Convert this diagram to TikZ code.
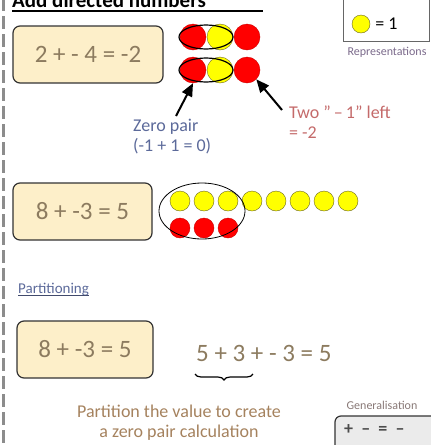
\documentclass[tikz,border=0pt]{standalone}
\usepackage{fontspec}
\setmainfont{Carlito}
\usetikzlibrary{positioning,arrows,arrows.meta,decorations.pathreplacing}
\definecolor{boxfill}{HTML}{FDEFC9}
\definecolor{sumtext}{HTML}{8C7B5F}
\definecolor{bluetext}{HTML}{5C6A9A}
\definecolor{redtext}{HTML}{C46A6A}
\definecolor{warmtext}{HTML}{A5825E}
\definecolor{cntred}{HTML}{FF0000}
\definecolor{cntyellow}{HTML}{FFFF00}
\tikzset{
  sumbox/.style={draw=black!80, very thick, rounded corners=7pt, fill=boxfill,
    text=sumtext, font=\fontsize{25}{27}\selectfont},
  redcnt/.style={circle, fill=cntred, draw=cntred!80!black, thin, inner sep=0pt},
  yelcnt/.style={circle, fill=cntyellow, draw=olive!70!black, thin, inner sep=0pt},
  note/.style={font=\fontsize{18}{20}\selectfont, align=left, inner sep=1pt},
  tiny/.style={font=\fontsize{12}{13}\selectfont, inner sep=0pt},
  pointer/.style={-{Triangle[length=13pt,width=11pt]}, line width=2pt, black}
}
\begin{document}
\begin{tikzpicture}[x=1pt,y=-1pt]
			\useasboundingbox (0,0) rectangle (431,445);
			\clip (0,0) rectangle (431,445);
			\draw[line width=3pt, black!45, dash pattern=on 13pt off 5pt] (3,-2) -- (3,447);
 
			% heading
			\node[anchor=base west, font=\bfseries\fontsize{21}{23}\selectfont, inner sep=0pt] (head) at (12,7) {Add directed numbers};
			\draw[line width=1.6pt] (12,11) -- (263,11);
 
			% legend
			\draw[black!60, thick, fill=white] (343,-5) rectangle (429,41);
			\node[yelcnt, minimum size=18pt] (key) at (361,24) {};
			\node[right=5pt of key, font=\fontsize{18}{20}\selectfont, inner sep=0pt] (keytxt) {= 1};
			\node[tiny, text=bluetext!70!redtext] (rep) at (387,52) {Representations};
 
			% first sum
			\node[sumbox, minimum width=150pt, minimum height=57pt] (sumA) at (88,54.5) {2 + - 4 = -2};
			\foreach \r/\y in {1/37, 2/70} {
				\node[redcnt, minimum size=26pt] (a\r) at (193,\y) {};
				\node[yelcnt, minimum size=26pt] (b\r) at (220,\y) {};
				\node[redcnt, minimum size=26pt] (c\r) at (247,\y) {};
				\draw[very thick] (206,\y) ellipse (27 and 12);
			}
			\node[note, text=bluetext, anchor=north west] (zero) at (132,118) {Zero pair\\(-1 + 1 = 0)};
			\node[note, text=redtext, anchor=north west] (left) at (288,105) {Two ''\,--\,1'' left\\= -2};
			\coordinate (zeroarr) at (176,116);
			\coordinate (leftarr) at (282,110);
			\draw[pointer] (zeroarr) -- (a2.south);
			\draw[pointer] (leftarr) -- (c2.south east);
 
			% second sum
			\node[sumbox, minimum width=139pt, minimum height=57pt] (sumB) at (82.5,211.5) {8 + -3 = 5};
			\foreach \i in {0,...,7}
				\node[yelcnt, minimum size=20pt] (y\i) at (180+24*\i,201) {};
			\foreach \i in {0,1,2}
				\node[redcnt, minimum size=20pt] (q\i) at (180+24*\i,228) {};
			\draw[thick] (202,211) ellipse (43 and 28);
 
			% partitioning
			\node[anchor=base west, text=bluetext, font=\fontsize{15}{17}\selectfont, inner sep=0pt] (part) at (18,293) {Partitioning};
			\draw[bluetext!70!black] ([yshift=-2.5pt]part.base west) -- ([yshift=-2.5pt]part.base east);
			\node[sumbox, minimum width=136pt, minimum height=57pt] (sumC) at (85,349.5) {8 + -3 = 5};
			\node[anchor=west, text=sumtext, font=\fontsize{25}{27}\selectfont, inner sep=0pt] (split) at (196,353) {5 + 3 + - 3 = 5};
			\draw[decorate, decoration={brace, mirror, amplitude=6pt}, very thick] (195,374) -- (253,374);
			\node[note, text=warmtext, align=center] (hint) at (179,423) {Partition the value to create\\a zero pair calculation};
 
			% generalisation
			\node[tiny, text=warmtext!60!bluetext] (gen) at (382,405) {Generalisation};
			\draw[very thick, black!80, fill=black!8, rounded corners=6pt] (335,416) rectangle (445,460);
			\node[anchor=west, font=\bfseries\fontsize{18}{20}\selectfont, text=black!70, inner sep=0pt] (genrule) at (344,430) {+\ \ --\ \ =\ \ --};
		\end{tikzpicture}
\end{document}
